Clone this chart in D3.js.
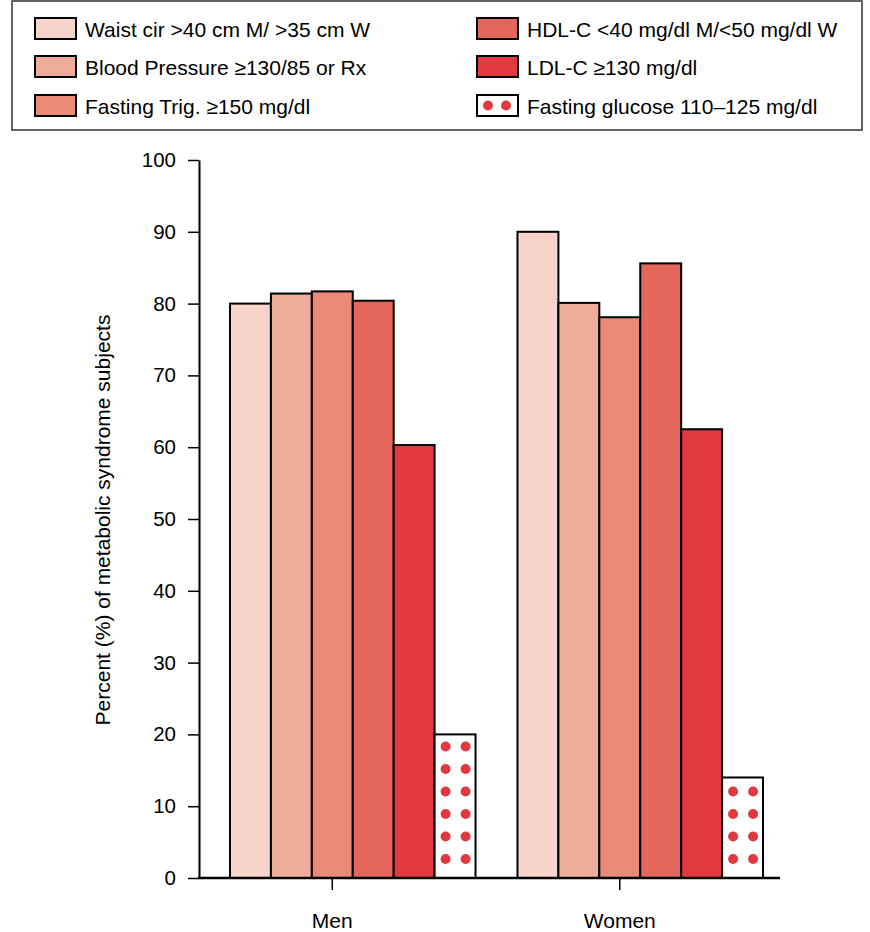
<!DOCTYPE html>
<html><head><meta charset="utf-8">
<script src="https://cdn.jsdelivr.net/npm/d3@7"></script>
<style>body{margin:0;background:#fff}svg{display:block;font-family:"Liberation Sans",Arial,Helvetica,sans-serif}</style>
</head><body><svg id="c" width="870" height="932"></svg>
<script>
const groups = ["Men", "Women"];
const seriesKeys = ["waist", "bp", "trig", "hdl", "ldl", "glucose"];
const seriesLabels = ["Waist cir >40 cm M/ >35 cm W", "Blood Pressure \u2265130/85 or Rx", "Fasting Trig. \u2265150 mg/dl", "HDL-C <40 mg/dl M/<50 mg/dl W", "LDL-C \u2265130 mg/dl", "Fasting glucose 110\u2013125 mg/dl"];
const seriesColors = ["#F8D3C9", "#F0AC9B", "#EC8A78", "#E5665A", "#E03A40", "#FFFFFF"];
const menValues = [80.0, 81.4, 81.7, 80.4, 60.3, 20.0];
const womenValues = [90.0, 80.1, 78.1, 85.6, 62.5, 14.0];
const yTicks = [0, 10, 20, 30, 40, 50, 60, 70, 80, 90, 100];
const dotColor = "#E03A40";

const valuesByGroup = {Men: menValues, Women: womenValues};
const svg = d3.select("#c");

const y = d3.scaleLinear().domain([0, 100]).range([878, 160]);
const x0 = d3.scaleBand().domain(groups).range([230, 763]).paddingInner(0.146);
const x1 = d3.scaleBand().domain(seriesKeys).range([0, x0.bandwidth()]);
const axisLeftX = 199, axisRightX = 780;

// bars
const data = [];
groups.forEach(g => seriesKeys.forEach((k, i) => data.push({g, k, i, v: valuesByGroup[g][i]})));
const gBars = svg.append("g");
gBars.selectAll("rect").data(data).join("rect")
  .attr("x", d => x0(d.g) + x1(d.k))
  .attr("y", d => y(d.v))
  .attr("width", x1.bandwidth())
  .attr("height", d => y(0) - y(d.v))
  .attr("fill", d => seriesColors[d.i])
  .attr("stroke", "#000").attr("stroke-width", 2);

// dots in glucose bars
data.filter(d => d.k === "glucose").forEach(d => {
  const left = x0(d.g) + x1(d.k);
  const top = y(d.v);
  for (let yy = y(0) - 19; yy >= top + 11; yy -= 22.5) {
    [11, 31].forEach(dx => gBars.append("circle").attr("cx", left + dx).attr("cy", yy).attr("r", 5).attr("fill", dotColor));
  }
});

// y axis
const yAxis = svg.append("g").attr("transform", `translate(${axisLeftX},0)`)
  .call(d3.axisLeft(y).tickValues(yTicks).tickSize(11).tickSizeOuter(0).tickPadding(12));
yAxis.select(".domain").attr("stroke", "#000").attr("stroke-width", 2);
yAxis.selectAll(".tick line").attr("stroke", "#000").attr("stroke-width", 1.5);
yAxis.selectAll(".tick text").attr("font-size", 20.5).attr("fill", "#000").attr("font-family", "Liberation Sans, Arial, sans-serif");

// x axis
svg.append("line").attr("x1", axisLeftX - 1).attr("x2", axisRightX).attr("y1", y(0)).attr("y2", y(0)).attr("stroke", "#000").attr("stroke-width", 2.5);
groups.forEach(g => {
  const cx = (x0(g) + x1("waist") + x0(g) + x1("ldl") + x1.bandwidth()) / 2;
  svg.append("line").attr("x1", cx).attr("x2", cx).attr("y1", y(0)).attr("y2", y(0) + 12).attr("stroke", "#000").attr("stroke-width", 1.5);
  svg.append("text").attr("x", cx).attr("y", 928).attr("text-anchor", "middle").attr("font-size", 21).text(g);
});

// y label
svg.append("text").attr("transform", "translate(110,520) rotate(-90)").attr("text-anchor", "middle").attr("font-size", 21).text("Percent (%) of metabolic syndrome subjects");

// legend
svg.append("rect").attr("x", 12).attr("y", 1).attr("width", 850).attr("height", 129).attr("fill", "none").attr("stroke", "#333").attr("stroke-width", 1.5);
const legCols = [35, 477], legRows = [18, 56, 95];
seriesKeys.forEach((k, i) => {
  const lx = legCols[Math.floor(i / 3)], ly = legRows[i % 3];
  const lg = svg.append("g").attr("transform", `translate(${lx},${ly})`);
  lg.append("rect").attr("width", 41).attr("height", 21).attr("fill", seriesColors[i]).attr("stroke", "#000").attr("stroke-width", 2);
  if (k === "glucose") {
    [11, 29].forEach(dx => lg.append("circle").attr("cx", dx).attr("cy", 10.5).attr("r", 5).attr("fill", dotColor));
  }
  lg.append("text").attr("x", 50).attr("y", 18.5).attr("font-size", 21).text(seriesLabels[i]);
});
</script></body></html>
